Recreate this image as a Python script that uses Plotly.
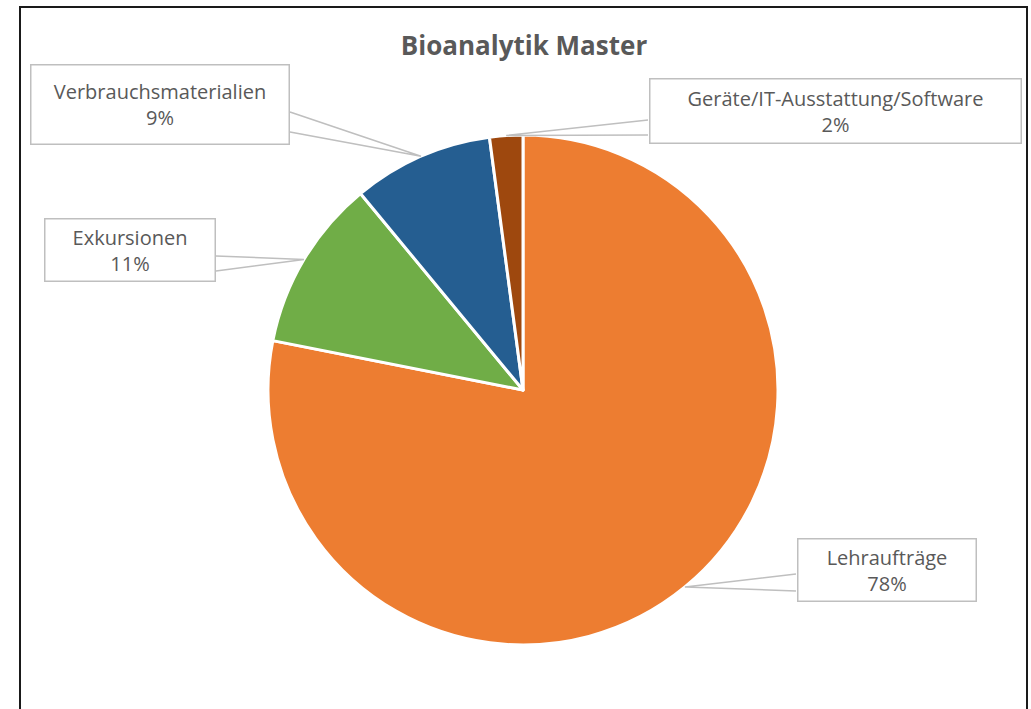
import math
import plotly.graph_objects as go

# Daten
kategorien = ["Lehraufträge", "Exkursionen", "Verbrauchsmaterialien", "Geräte/IT-Ausstattung/Software"]
anteile = [78.1, 10.9, 8.9, 2.1]
farben = ["#ED7D31", "#70AD47", "#255E91", "#9E480E"]

W, H = 1031, 709
# Kreis (Pixel)
cx, cy, r = 523, 390, 255


def px_x(x):
    return x / W


def px_y(y):
    return 1 - y / H


fig = go.Figure()
fig.add_trace(go.Pie(
    labels=kategorien,
    values=anteile,
    sort=False,
    direction="clockwise",
    rotation=0,
    marker=dict(colors=farben, line=dict(color="white", width=3)),
    textinfo="none",
    hoverinfo="label+percent",
    showlegend=False,
    domain=dict(x=[px_x(cx - r), px_x(cx + r)], y=[px_y(cy + r), px_y(cy - r)]),
))

# Beschriftungsboxen: (links, oben, rechts, unten, Seite der Spitze, y1, y2)
boxen = [
    (796, 537, 977, 602, "left", 574, 591),
    (43, 217, 216, 282, "right", 256, 271),
    (29, 63, 290, 145, "right", 112, 132),
    (648, 78, 1022, 145, "left", 120, 135),
]

summe = sum(anteile)
kum = 0
for name, wert, box in zip(kategorien, anteile, boxen):
    mitte = (kum + wert / 2) / summe * 2 * math.pi
    kum += wert
    spx = cx + r * math.sin(mitte)
    spy = cy - r * math.cos(mitte)
    l, t, rr, b, seite, y1, y2 = box
    ex = l if seite == "left" else rr
    fig.add_shape(
        type="path",
        xref="paper", yref="paper",
        path=f"M {px_x(ex)} {px_y(y1)} L {px_x(spx)} {px_y(spy)} L {px_x(ex)} {px_y(y2)}",
        line=dict(color="#BFBFBF", width=1.5),
    )
    prozent = round(wert / summe * 100)
    fig.add_annotation(
        x=px_x((l + rr) / 2), y=px_y((t + b) / 2),
        xref="paper", yref="paper",
        xanchor="center", yanchor="middle",
        text=f"{name}<br>{prozent}%",
        showarrow=False,
        width=rr - l - 4, height=b - t - 4,
        bordercolor="#BFBFBF", borderwidth=1.5, borderpad=0,
        bgcolor="white",
        font=dict(family="Open Sans, sans-serif", size=20, color="#595959"),
    )

# Rahmen
fig.add_shape(
    type="rect", xref="paper", yref="paper",
    x0=px_x(20), x1=px_x(1027), y0=px_y(730), y1=px_y(7),
    line=dict(color="#1A1A1A", width=2),
)

fig.update_layout(
    width=W, height=H,
    margin=dict(l=0, r=0, t=0, b=0),
    paper_bgcolor="white",
    plot_bgcolor="white",
    title=dict(
        text="<b>Bioanalytik Master</b>",
        x=px_x(524), xanchor="center",
        y=px_y(46), yanchor="middle",
        font=dict(family="Open Sans, sans-serif", size=26, color="#595959"),
    ),
)

# Seitenrand entfernen, damit die Grafik genau im Fenster sitzt
fig.write_html(
    "out.html",
    config={"displayModeBar": False},
    post_script="document.body.style.margin='0';document.body.style.overflow='hidden';",
)
